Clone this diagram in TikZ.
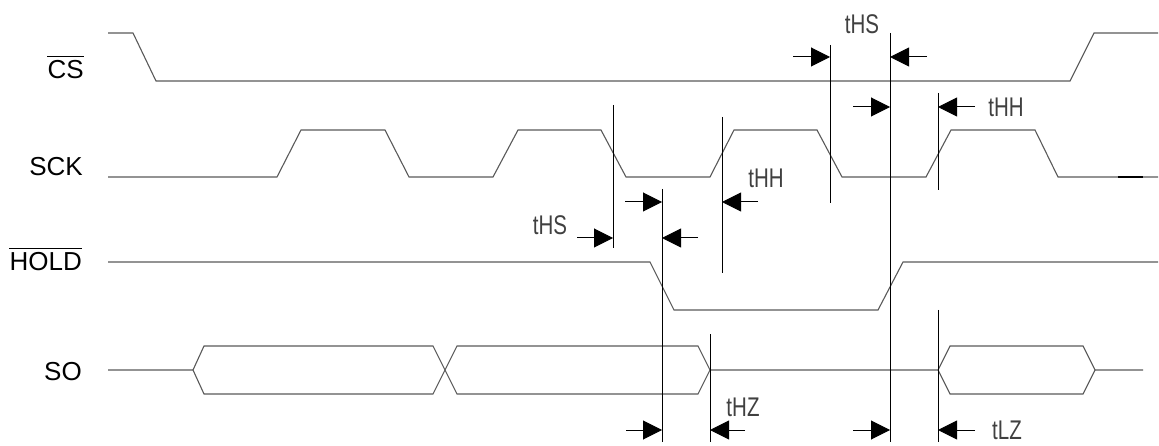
\documentclass[tikz,border=0pt]{standalone}
\usepackage{fontspec}
\setmainfont{Liberation Sans}
\newfontfamily\tfont{Liberation Sans}[FakeStretch=0.76]
\usetikzlibrary{arrows.meta}
\begin{document}
\begin{tikzpicture}[x=1pt,y=-1pt,
  sig/.style={draw=black!65,line width=1.1pt,line join=miter},
  vline/.style={draw=black,line width=1pt},
  meas/.style={draw=black,line width=1pt,-{Triangle[length=19pt,width=19pt]}},
  lbl/.style={inner sep=0pt,font=\fontsize{26}{30}\selectfont},
  tl/.style={inner sep=0pt,font=\tfont\fontsize{27}{30}\selectfont,text=black!75}]
\useasboundingbox (0,0) rectangle (1159,446);
% labels
\node[lbl,anchor=base east] (cs) at (84,79) {CS};
\draw[line width=1pt] ([yshift=4pt]cs.north west) -- ([yshift=4pt]cs.north east);
\node[lbl,anchor=base east] (sck) at (83,176) {SCK};
\node[lbl,anchor=base east] (hold) at (82,271) {HOLD};
\draw[line width=1pt] ([yshift=4pt]hold.north west) -- ([yshift=4pt]hold.north east);
\node[lbl,anchor=base east] (so) at (82,380) {SO};
% CS
\draw[sig] (108,33) -- (133,33) -- (156,81) -- (1070,81) -- (1094,33) -- (1158,33);
% SCK
\draw[sig] (108,177) -- (277,177) -- (301,130) -- (385,130) -- (409,177)
  -- (493,177) -- (518,130) -- (601,130) -- (626,177)
  -- (710,177) -- (734,130) -- (817,130) -- (842,177)
  -- (926,177) -- (951,130) -- (1035,130) -- (1058,177) -- (1158,177);
\draw[line width=2pt] (1118,177) -- (1143,177);
% HOLD
\draw[sig] (108,262) -- (650,262) -- (674,310) -- (878,310) -- (903,262) -- (1158,262);
% SO
\draw[sig] (108,370) -- (193,370) -- (204,346) -- (433,346) -- (457,394) -- (698,394) -- (710,370)
  -- (938,370) -- (950,346) -- (1083,346) -- (1095,370) -- (1143,370);
\draw[sig] (193,370) -- (204,394) -- (433,394) -- (457,346) -- (698,346) -- (710,370);
\draw[sig] (938,370) -- (950,394) -- (1083,394) -- (1095,370);
% vertical reference lines
\draw[vline] (613,105) -- (613,248);
\draw[vline] (662,189) -- (662,442);
\draw[vline] (722,117) -- (722,273);
\draw[vline] (710,334) -- (710,442);
\draw[vline] (830,45) -- (830,203);
\draw[vline] (890,33) -- (890,442);
\draw[vline] (938,93) -- (938,190);
\draw[vline] (938,310) -- (938,442);
% measurement arrows
\draw[meas] (793,57) -- (830,57);
\draw[meas] (927,57) -- (890,57);
\draw[meas] (853,107) -- (890,107);
\draw[meas] (975,107) -- (938,107);
\draw[meas] (625,202) -- (662,202);
\draw[meas] (758,202) -- (722,202);
\draw[meas] (577,238) -- (613,238);
\draw[meas] (698,238) -- (662,238);
\draw[meas] (626,430) -- (662,430);
\draw[meas] (745,430) -- (710,430);
\draw[meas] (853,430) -- (890,430);
\draw[meas] (975,430) -- (938,430);
% timing labels
\node[tl] (ths1) at (862,24) {tHS};
\node[tl] (thh1) at (1006,107) {tHH};
\node[tl] (thh2) at (766,178) {tHH};
\node[tl] (ths2) at (550,225) {tHS};
\node[tl] (thz) at (743,407) {tHZ};
\node[tl] (tlz) at (1007,430) {tLZ};
\end{tikzpicture}
\end{document}
